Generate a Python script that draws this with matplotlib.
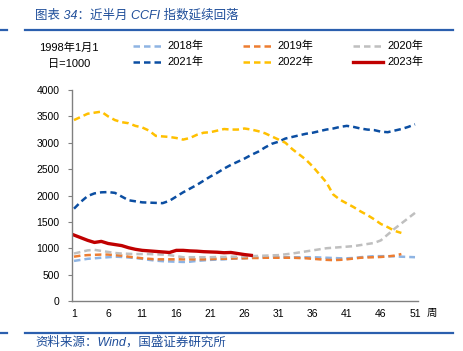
import matplotlib
matplotlib.use("Agg")
import matplotlib.pyplot as plt
from matplotlib.lines import Line2D

plt.rcParams['font.family'] = ['Liberation Sans', 'Noto Sans CJK SC', 'DejaVu Sans']

v2018 = [760, 780, 800, 810, 820, 830, 840, 835, 825, 815, 800, 780, 765, 755, 750, 745, 740, 745, 760, 770,
         780, 785, 790, 800, 805, 810, 820, 825, 830, 830, 830, 830, 830, 830, 830, 830, 825, 820, 815, 810,
         810, 815, 830, 840, 850, 850, 850, 845, 840, 835, 830]
v2019 = [840, 860, 870, 875, 880, 880, 870, 860, 840, 825, 810, 800, 790, 790, 790, 790, 790, 790, 790, 790,
         795, 800, 800, 805, 810, 810, 815, 815, 820, 820, 820, 820, 820, 815, 810, 800, 790, 780, 775, 780,
         790, 805, 820, 825, 830, 835, 845, 860, 890]
v2020 = [900, 930, 960, 970, 950, 930, 910, 900, 895, 890, 890, 890, 885, 880, 870, 850, 830, 830, 830, 830,
         830, 835, 835, 840, 840, 845, 850, 855, 860, 865, 870, 885, 900, 920, 940, 960, 980, 1000, 1010, 1020,
         1030, 1040, 1060, 1080, 1100, 1150, 1260, 1370, 1470, 1570, 1670]
v2021 = [1750, 1880, 1990, 2040, 2060, 2065, 2050, 1980, 1910, 1890, 1870, 1865, 1860, 1855, 1900, 1980, 2060, 2130, 2200, 2280,
         2360, 2430, 2510, 2580, 2640, 2700, 2770, 2830, 2910, 2980, 3020, 3080, 3110, 3140, 3170, 3190, 3220, 3250, 3270, 3300,
         3320, 3300, 3270, 3250, 3240, 3210, 3200, 3230, 3260, 3300, 3350]
v2022 = [3430, 3490, 3550, 3570, 3590, 3500, 3430, 3390, 3370, 3320, 3290, 3230, 3130, 3120, 3110, 3090, 3060, 3090, 3150, 3190,
         3200, 3230, 3260, 3250, 3250, 3270, 3250, 3220, 3180, 3120, 3060, 3000, 2880, 2780, 2680, 2550, 2400, 2250, 2020, 1920,
         1850, 1780, 1700, 1630, 1550, 1460, 1400, 1330, 1290]
v2023 = [1250, 1200, 1150, 1110, 1130, 1090, 1070, 1050, 1010, 980, 960, 950, 940, 930, 920, 960, 960, 950, 945, 935,
         930, 925, 915, 920, 900, 880, 865]

series = [
    ("2018年", v2018, "#8EB4E3", "dash"),
    ("2019年", v2019, "#ED7D31", "dash"),
    ("2020年", v2020, "#BFBFBF", "dash"),
    ("2021年", v2021, "#0B4EA2", "dash"),
    ("2022年", v2022, "#FFC000", "dash"),
    ("2023年", v2023, "#C00000", "solid"),
]
xticks = [1, 6, 11, 16, 21, 26, 31, 36, 41, 46, 51]
yticks = [0, 500, 1000, 1500, 2000, 2500, 3000, 3500, 4000]

fig = plt.figure(figsize=(4.63, 3.51), dpi=100)
W, H = 463, 351
ax = fig.add_axes([72 / W, 1 - 301 / H, (418 - 72) / W, (301 - 90) / H])

DASH = (0, (2.6, 1.6))
for name, vals, col, st in series:
    xs = list(range(1, len(vals) + 1))
    if st == "dash":
        ax.plot(xs, vals, color=col, lw=1.8, linestyle=DASH)
    else:
        ax.plot(xs, vals, color=col, lw=2.4)

ax.set_xlim(1 - 2 / 6.82, 51 + 3 / 6.82)
ax.set_ylim(0, 4000)
ax.set_xticks(xticks)
ax.set_yticks(yticks)
ax.set_xticklabels([str(t) for t in xticks])
ax.set_yticklabels([str(t) for t in yticks])
for s in ['top', 'right']:
    ax.spines[s].set_visible(False)
for s in ['left', 'bottom']:
    ax.spines[s].set_color('#808080')
    ax.spines[s].set_linewidth(1.0)
ax.tick_params(axis='y', length=3, color='#808080', labelsize=7.5, pad=6, labelcolor='#000000')
ax.tick_params(axis='x', length=0, labelsize=7.5, pad=6, labelcolor='#000000')

fig.text(432 / W, 1 - 313 / H, "周", fontsize=7.5, ha='center', va='center')
fig.text(69 / W, 1 - 48 / H, "1998年1月1", fontsize=8, ha='center', va='center')
fig.text(69 / W, 1 - 64 / H, "日=1000", fontsize=8, ha='center', va='center')

# manual legend, 3 columns x 2 rows
col_x = [133, 243, 353]
row_y = [46, 62]
for i, (name, vals, col, st) in enumerate(series):
    r, c = divmod(i, 3)
    x0 = col_x[c]
    y = 1 - row_y[r] / H
    if st == "dash":
        fig.add_artist(Line2D([x0 / W, (x0 + 30) / W], [y, y], color=col, lw=1.8, linestyle=DASH))
    else:
        fig.add_artist(Line2D([x0 / W, (x0 + 30) / W], [y, y], color=col, lw=2.4))
    fig.text((x0 + 34) / W, y, name, fontsize=8, ha='left', va='center')

blue = '#2B5FAE'
fig.add_artist(Line2D([25 / W, 453 / W], [1 - 30 / H, 1 - 30 / H], color=blue, lw=1.6))
fig.add_artist(Line2D([0, 7 / W], [1 - 30 / H, 1 - 30 / H], color=blue, lw=1.6))
fig.add_artist(Line2D([25 / W, 453 / W], [1 - 333 / H, 1 - 333 / H], color=blue, lw=1.6))
fig.add_artist(Line2D([0, 7 / W], [1 - 333 / H, 1 - 333 / H], color=blue, lw=1.6))

fig.text(35 / W, 1 - 15 / H, "图表 34：近半月 CCFI 指数延续回落", fontsize=9, color='#1F4E9A',
         ha='left', va='center', style='italic')
fig.text(35 / W, 1 - 342 / H, "资料来源：Wind，国盛证券研究所", fontsize=9, color='#1F4E9A',
         ha='left', va='center', style='italic')

fig.savefig("out.png", dpi=100)
